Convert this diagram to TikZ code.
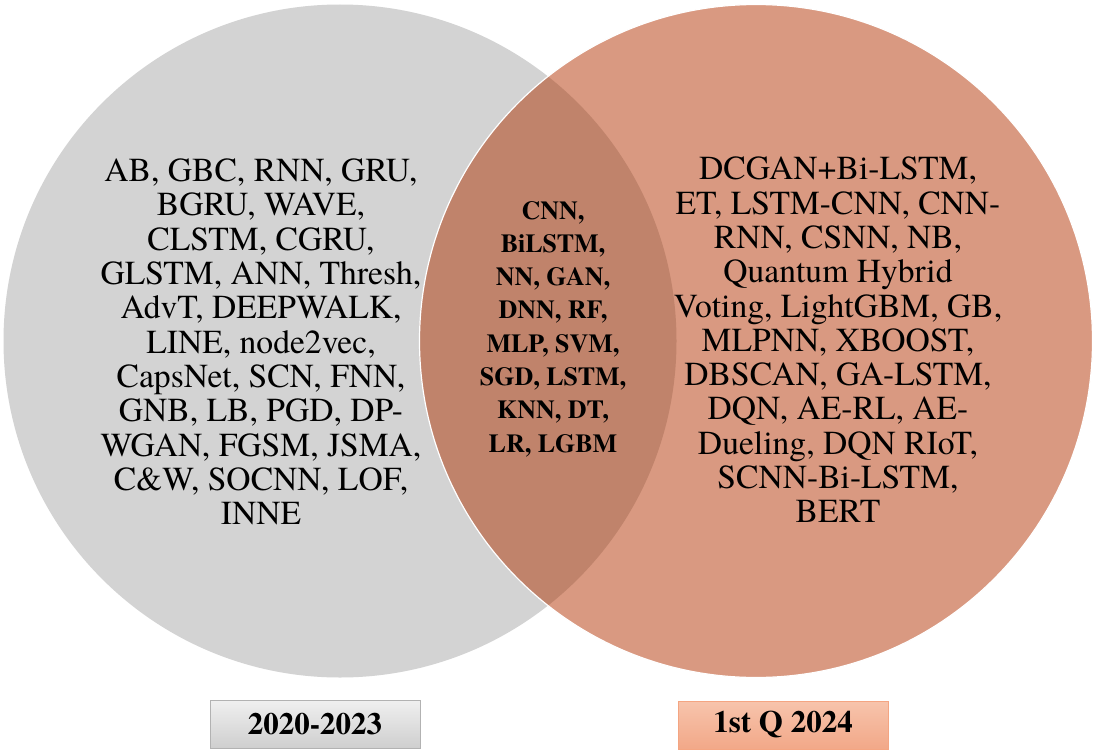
\documentclass[tikz,border=0pt]{standalone}
\usepackage{fontspec}
\setmainfont{texgyretermes}[Extension=.otf, UprightFont=*-regular, BoldFont=*-bold, ItalicFont=*-italic, BoldItalicFont=*-bolditalic]
\usepackage{xcolor}
\usepackage{tikz}
\usetikzlibrary{positioning}
\definecolor{oldgray}{RGB}{211,211,211}
\definecolor{newsalmon}{RGB}{217,153,129}
\definecolor{bothbrown}{RGB}{192,131,107}
\definecolor{boxline}{RGB}{244,165,130}
\tikzset{
    setnode/.style = {circle, inner sep=0pt, outer sep=0pt, minimum size=673pt},
    old_set/.style = {setnode, fill=oldgray},
    new_set/.style = {setnode, fill=newsalmon},
    both_set/.style = {fill=bothbrown},
    list_text/.style = {align=center, inner sep=0pt, text=black, font=\fontsize{33.6}{34.3}\selectfont},
    shared_text/.style = {align=center, inner sep=0pt, text=black, font=\fontsize{26}{33.3}\selectfont\bfseries},
    year_box/.style = {rectangle, minimum width=210pt, minimum height=48pt, inner sep=0pt, font=\fontsize{31}{31}\selectfont\bfseries},
    old_box/.style = {year_box, draw=gray!60, top color=gray!12, bottom color=gray!38},
    new_box/.style = {year_box, draw=boxline, top color={rgb,255:red,247;green,196;blue,172}, bottom color={rgb,255:red,242;green,168;blue,136}}
}

\begin{document}
\begin{tikzpicture}[x=1pt, y=-1pt]
    \useasboundingbox (0,0) rectangle (1100,752);

    % the two sets
    \node [old_set] (old) at (340,341) {};
    \node [new_set] (new) at (756,341) {};
    \begin{scope}
        \clip (old.center) circle (336.5pt);
        \fill [both_set] (new.center) circle (336.5pt);
    \end{scope}
    \draw [white, line width=1.2pt] (new.center) circle (336.5pt);

    % lists
    \node [list_text] (old_list) at (261,342) {AB, GBC, RNN, GRU,\\ BGRU, WAVE,\\ CLSTM, CGRU,\\ GLSTM, ANN, Thresh,\\ AdvT, DEEPWALK,\\ LINE, node2vec,\\ CapsNet, SCN, FNN,\\ GNB, LB, PGD, DP-\\ WGAN, FGSM, JSMA,\\ C\&W, SOCNN, LOF,\\ INNE};
    \node [list_text] (new_list) at (838,340) {DCGAN+Bi-LSTM,\\ ET, LSTM-CNN, CNN-\\ RNN, CSNN, NB,\\ Quantum Hybrid\\ Voting, LightGBM, GB,\\ MLPNN, XBOOST,\\ DBSCAN, GA-LSTM,\\ DQN, AE-RL, AE-\\ Dueling, DQN RIoT,\\ SCNN-Bi-LSTM,\\ BERT};
    \node [shared_text] (shared_list) at (553,329) {CNN,\\ BiLSTM,\\ NN, GAN,\\ DNN, RF,\\ MLP, SVM,\\ SGD, LSTM,\\ KNN, DT,\\ LR, LGBM};

    % period labels
    \node [old_box] (old_year) at (315,724) {2020-2023};
    \node [new_box] (new_year) at (783,725) {1st Q 2024};
\end{tikzpicture}
\end{document}
